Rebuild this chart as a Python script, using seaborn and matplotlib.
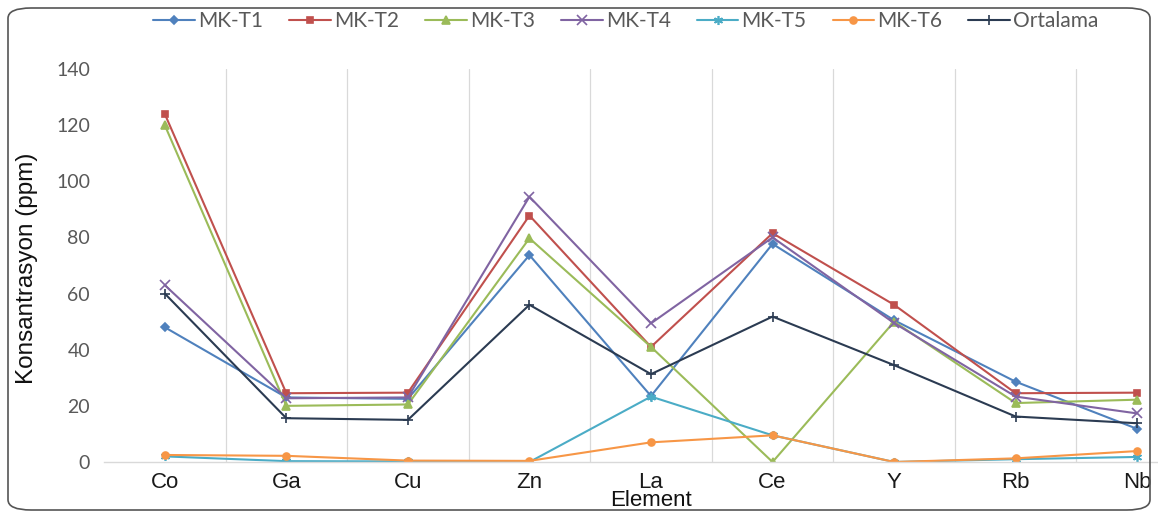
import matplotlib
matplotlib.use("Agg")
import matplotlib.pyplot as plt
from matplotlib.patches import FancyBboxPatch
import seaborn as sns

elements = ["Co", "Ga", "Cu", "Zn", "La", "Ce", "Y", "Rb", "Nb"]
mk_t1 = [48, 23, 22.5, 73.7, 23.5, 77.7, 50.5, 28.6, 11.8]
mk_t2 = [124, 24.5, 24.7, 87.8, 41, 81.5, 56, 24.5, 24.7]
mk_t3 = [120, 20, 20.5, 79.7, 41, 0, 50, 21, 22.2]
mk_t4 = [63, 22.7, 23, 94.5, 49.4, 80, 49.5, 23.3, 17.3]
mk_t5 = [2, 0.3, 0.2, 0, 23.3, 9.5, 0, 1, 1.8]
mk_t6 = [2.5, 2.2, 0.5, 0.4, 7, 9.5, 0, 1.3, 3.9]
ortalama = [60, 15.6, 15, 56, 31.3, 51.8, 34.5, 16.2, 13.8]

series_names = ["MK-T1", "MK-T2", "MK-T3", "MK-T4", "MK-T5", "MK-T6", "Ortalama"]
series_values = [mk_t1, mk_t2, mk_t3, mk_t4, mk_t5, mk_t6, ortalama]
colors = ["#4F81BD", "#C0504D", "#9BBB59", "#8064A2", "#4BACC6", "#F79646", "#2B3B52"]
markers = ["D", "s", "^", "x", (6, 2, 0), "o", "+"]
marker_sizes = [4.5, 5, 5.5, 6.5, 6.5, 5, 7.5]
y_ticks = [0, 20, 40, 60, 80, 100, 120, 140]

sns.set_style("white")
plt.rcParams["font.family"] = ["Liberation Sans", "DejaVu Sans"]

W, H = 1158, 515
fig = plt.figure(figsize=(W / 100, H / 100), dpi=100)

# plot area: category slots 121 px wide, last slot runs past the right edge
left_px, right_px, top_px, bottom_px = 104, 1198, 69, 462
ax = fig.add_axes([left_px / W, 1 - bottom_px / H,
                   (right_px - left_px) / W, (bottom_px - top_px) / H])

xpos = list(range(len(elements)))
for name, vals, c, m, ms in zip(series_names, series_values, colors, markers, marker_sizes):
    sns.lineplot(x=xpos, y=vals, color=c, marker=m, markersize=ms,
                 markeredgecolor=c, markeredgewidth=1.2, linewidth=1.5,
                 sort=False, label=name, ax=ax)

ax.set_xlim(-0.5, len(elements) - 0.5)
ax.set_ylim(0, 140)
ax.set_yticks(y_ticks)
ax.set_xticks(xpos)
ax.set_xticklabels(elements)

# vertical separators between categories
for i in range(len(elements) - 1):
    ax.axvline(i + 0.5, color="#D9D9D9", lw=0.9, zorder=0)

for side in ["top", "right", "left"]:
    ax.spines[side].set_visible(False)
ax.spines["bottom"].set_color("#D9D9D9")
ax.spines["bottom"].set_linewidth(1.0)
ax.tick_params(axis="both", length=0)
ax.tick_params(axis="x", pad=7, labelsize=16, labelcolor="#1A1A1A")
ax.tick_params(axis="y", pad=10, labelsize=14, labelcolor="#595959")
for t in ax.get_yticklabels():
    t.set_family(["Lato", "DejaVu Sans"])

ax.set_xlabel("")
ax.set_ylabel("")
fig.text(651 / W, 1 - 501 / H, "Element", ha="center", va="center",
         fontsize=16, color="#111111")
fig.text(27 / W, 1 - 268 / H, "Konsantrasyon (ppm)", ha="center", va="center",
         rotation=90, fontsize=17.5, color="#111111")

handles, labels = ax.get_legend_handles_labels()
ax.get_legend().remove()
fig.legend(
    handles, labels, ncol=7, loc="center", bbox_to_anchor=(626 / W, 1 - 21 / H),
    frameon=False, handlelength=2.0, handletextpad=0.15, columnspacing=1.25,
    prop={"family": ["Lato", "DejaVu Sans"], "size": 15}, labelcolor="#595959",
)

# rounded chart border
border = FancyBboxPatch(
    (8 / W, 1 - 510 / H), (1150 - 8) / W, (510 - 8) / H,
    boxstyle="round,pad=0,rounding_size=0.02", transform=fig.transFigure,
    fill=False, edgecolor="#555555", linewidth=1.2,
)
fig.patches.append(border)

fig.savefig("out.png", dpi=100)
